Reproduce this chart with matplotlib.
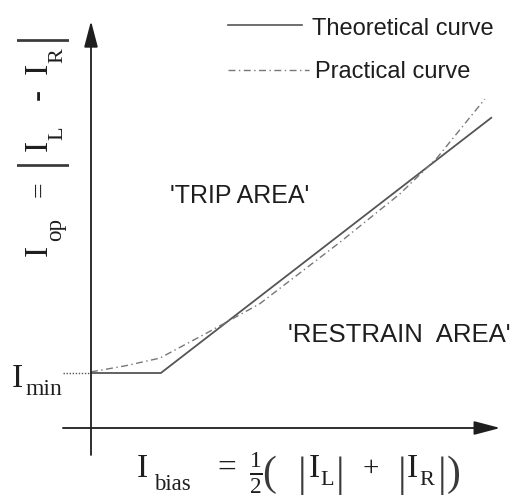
import matplotlib
matplotlib.use("Agg")
import matplotlib.pyplot as plt
import matplotlib.transforms as mtransforms

plt.rcParams['mathtext.fontset'] = 'custom'
plt.rcParams['mathtext.rm'] = 'Liberation Serif'
plt.rcParams['mathtext.it'] = 'Liberation Serif:italic'
plt.rcParams['mathtext.bf'] = 'Liberation Serif:bold'

# Characteristic curves (units of I_min)
i_min = 1.0
theoretical_bias = [0.0, 1.27, 7.29]
theoretical_op = [1.0, 1.0, 5.65]
practical_bias = [0.0, 0.62, 1.25, 2.11, 3.07, 4.53, 5.62, 6.29, 7.16]
practical_op = [1.02, 1.13, 1.27, 1.73, 2.26, 3.38, 4.26, 4.91, 5.98]

legend_labels = ["Theoretical curve", "Practical curve"]
region_labels = ["'TRIP AREA'", "'RESTRAIN  AREA'"]

W, H = 519, 498
ink = '#1e1e1e'
thin_ink = '#3a3a3a'
curve_col = '#555555'
prac_col = '#777777'
dashdot = (0, (5, 2.5, 1, 2.5))
serif = 'Liberation Serif'
sans = 'Liberation Sans'

fig = plt.figure(figsize=(W / 100, H / 100), dpi=100)
ax = fig.add_axes([0, 0, 1, 1])
ax.set_xlim(-1.6545, 7.7818)
ax.set_ylim(-1.2727, 7.7818)
ax.axis('off')

# pixel coordinates measured from the top-left corner, for the notation
pix = mtransforms.Affine2D().scale(1, -1).translate(0, H)


def put(s, x, y, size, family=serif, rot=0, ha='left', va='baseline',
        color=ink):
    fig.text(x, y, s, transform=pix, fontsize=size, family=family,
             rotation=rot, rotation_mode='anchor', ha=ha, va=va, color=color)


# axes with arrowheads
arrow = dict(arrowstyle='-|>,head_length=1.6,head_width=0.42', lw=1.3,
             color=ink, shrinkA=0, shrinkB=0)
ax.annotate('', xy=(0, 7.40), xytext=(0, -0.49), arrowprops=arrow)
ax.annotate('', xy=(7.44, 0), xytext=(-0.51, 0), arrowprops=arrow)

# curves
ax.plot(theoretical_bias, theoretical_op, color=curve_col, lw=1.3,
        solid_capstyle='butt')
ax.plot(practical_bias, practical_op, color=prac_col, lw=1.0,
        linestyle=dashdot)

# I_min reference
ax.plot([-0.51, 0], [i_min, i_min], color='#555555', lw=1.0,
        linestyle=(0, (1, 1.2)))
put('I', 12, 387, 24)
put('min', 25, 395, 17)

# legend
ax.plot([2.49, 3.84], [7.327, 7.327], color=curve_col, lw=1.2)
ax.plot([2.49, 3.96], [6.509, 6.509], color=prac_col, lw=1.0,
        linestyle=dashdot)
put(legend_labels[0], 312, 35, 17, family=sans)
put(legend_labels[1], 315, 78, 17, family=sans)

# region labels
put(region_labels[0], 170, 203, 18, family=sans)
put(region_labels[1], 288, 342, 18.5, family=sans)

# vertical axis title: I_op = |I_L - I_R|
put('I', 47, 256, 24, rot=90)
put('op', 61, 241, 16.5, rot=90)
put('=', 47, 197, 20, rot=90)
put('|', 54, 160, 40, rot=90, ha='center', color=thin_ink)
put('I', 47, 151, 24, rot=90)
put('L', 62, 140, 16, rot=90)
put('-', 47, 100, 24, rot=90)
put('I', 47, 74, 24, rot=90)
put('R', 62, 63, 16, rot=90)
put('|', 54, 35, 40, rot=90, ha='center', color=thin_ink)

# horizontal axis title: I_bias = 1/2 ( |I_L| + |I_R| )
put('I', 137, 477, 24)
put('bias', 154, 490, 16.5)
put('=', 217, 477, 24)
put(r'$\frac{1}{2}$', 256, 484, 24, ha='center')
put('(', 262, 485, 30, color=thin_ink)
put('|', 302, 486, 31, ha='center', color=thin_ink)
put('I', 309, 477, 24)
put('L', 320, 485, 16)
put('|', 340, 486, 31, ha='center', color=thin_ink)
put('+', 363, 476, 21)
put('|', 402, 486, 31, ha='center', color=thin_ink)
put('I', 407, 477, 24)
put('R', 419, 485, 16)
put('|', 442, 486, 31, ha='center', color=thin_ink)
put(')', 447, 485, 30, color=thin_ink)

fig.savefig('out.png', dpi=100, facecolor='white')
